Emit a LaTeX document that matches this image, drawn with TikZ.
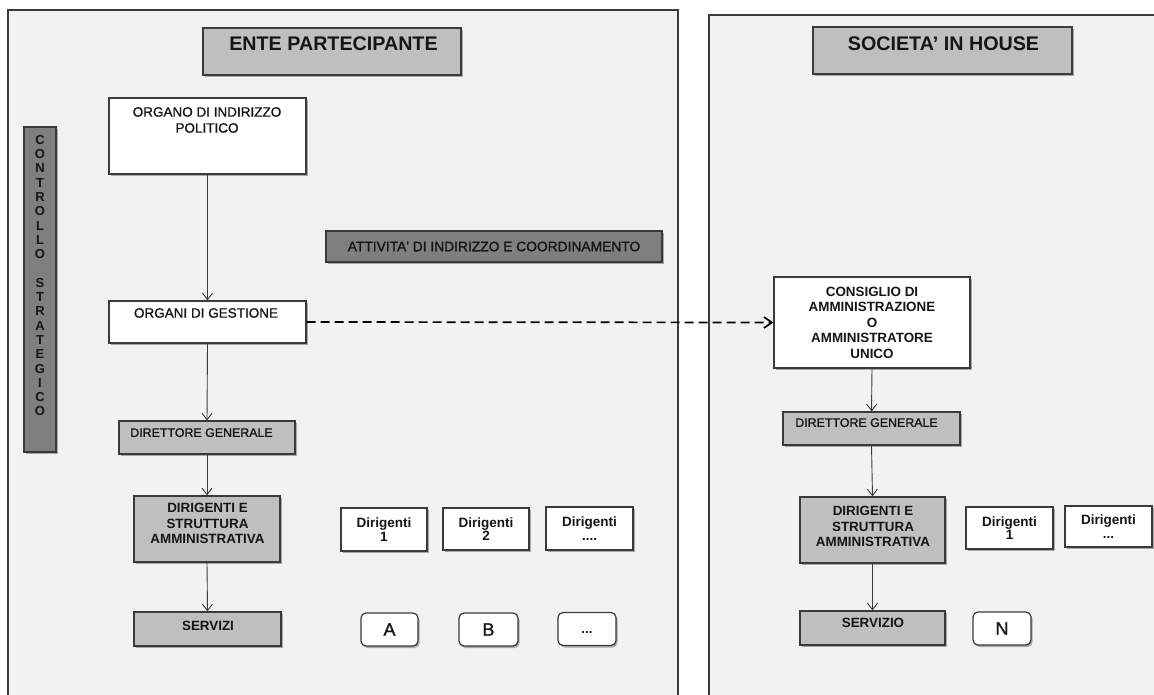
\documentclass[tikz,border=0pt]{standalone}
\usepackage{fontspec}
\setmainfont{Liberation Sans}
\newfontface\medfont{Liberation Sans}[FakeBold=1.2]
\usetikzlibrary{arrows.meta,shadows}
\definecolor{panelfill}{HTML}{F2F2F2}
\definecolor{boxgray}{HTML}{BFBFBF}
\definecolor{midgray}{HTML}{7F7F7F}
\definecolor{edgecol}{HTML}{3A3A3A}
\definecolor{ink}{HTML}{151515}
\begin{document}
\begin{tikzpicture}[x=1pt,y=-1pt,
  panel/.style={draw=edgecol, line width=1.1pt, fill=panelfill},
  box/.style={draw=edgecol, line width=1.2pt, inner sep=0pt, text=ink, align=center,
    drop shadow={shadow xshift=1.5pt, shadow yshift=-2pt, opacity=0.3, fill=black}},
  whitebox/.style={box, fill=white},
  graybox/.style={box, fill=boxgray},
  darkbox/.style={box, fill=midgray},
  roundbox/.style={whitebox, rounded corners=5pt},
  txt/.style={inner sep=0pt, text=ink, align=center, anchor=north},
  titlefont/.style={font=\fontsize{19.7}{22}\selectfont\bfseries},
  plainfont/.style={font=\fontsize{13.5}{16}\medfont},
  boldfont/.style={font=\fontsize{13.4}{15.5}\selectfont\bfseries},
  dirfont/.style={font=\fontsize{13.5}{13.5}\selectfont\bfseries},
  letterfont/.style={font=\fontsize{18}{20}\medfont},
  link/.style={draw=edgecol, line width=0.9pt,
    -{Straight Barb[length=6.5pt,width=10pt]}},
  dlink/.style={draw=black, line width=1.7pt, dash pattern=on 9pt off 5pt,
    -{Straight Barb[length=8pt,width=11pt]}}
]
\useasboundingbox (0,0) rectangle (1154,695);
\clip (0,0) rectangle (1154,695);
\fill[white] (0,0) rectangle (1154,695);

% the two frames
\path[panel] (8,10) rectangle (678,710);
\path[panel] (709,15) rectangle (1170,710);

% ---- left column ----
\node[graybox, minimum width=258pt, minimum height=47pt] (ente) at (332,51.5) {};
\node[txt, titlefont] (ente-t) at (333.5,37) {ENTE PARTECIPANTE};

\node[darkbox, minimum width=32pt, minimum height=325pt] (ctrl) at (40,289.5) {};
\node[txt, font=\fontsize{13}{14.3}\selectfont\bfseries] (ctrl-t) at (40,135)
  {C\\O\\N\\T\\R\\O\\L\\L\\O\\~\\S\\T\\R\\A\\T\\E\\G\\I\\C\\O};

\node[whitebox, minimum width=197pt, minimum height=76pt] (organo) at (207.5,136) {};
\node[txt, plainfont] (organo-t) at (207,107) {ORGANO DI INDIRIZZO\\POLITICO};

\node[darkbox, minimum width=336pt, minimum height=31pt, font=\fontsize{13.8}{16}\medfont]
  (attivita) at (494,246.5) {ATTIVITA' DI INDIRIZZO E COORDINAMENTO};

\node[whitebox, minimum width=197pt, minimum height=42pt] (organi) at (207.5,322) {};
\node[txt, plainfont] (organi-t) at (206,308) {ORGANI DI GESTIONE};

\node[graybox, minimum width=176pt, minimum height=33pt] (dg) at (207,437.5) {};
\node[txt, font=\fontsize{12.4}{14}\medfont] (dg-t) at (201.5,428) {DIRETTORE GENERALE};

\node[graybox, minimum width=146pt, minimum height=66pt] (dirig) at (207,529) {};
\node[txt, boldfont] (dirig-t) at (207.5,503) {DIRIGENTI E\\STRUTTURA\\AMMINISTRATIVA};

\node[graybox, minimum width=147pt, minimum height=34pt] (serv) at (207.5,629) {};
\node[txt, boldfont] (serv-t) at (208,621) {SERVIZI};

\node[whitebox, dirfont, minimum width=86pt, minimum height=43pt] (dir1) at (384,529.5) {Dirigenti\\1};
\node[whitebox, dirfont, minimum width=86pt, minimum height=42pt] (dir2) at (486,529) {Dirigenti\\2};
\node[whitebox, dirfont, minimum width=87pt, minimum height=43pt] (dir3) at (589.5,528.5) {Dirigenti\\....};

\node[roundbox, letterfont, minimum width=57pt, minimum height=33pt] (sa) at (389.5,629.5) {A};
\node[roundbox, letterfont, minimum width=59pt, minimum height=33pt] (sb) at (488.5,629.5) {B};
\node[roundbox, dirfont, text height=9pt, text depth=0pt, minimum width=58pt, minimum height=33pt]
  (sc) at (587,629) {...};

% ---- right column ----
\node[graybox, minimum width=259pt, minimum height=47pt] (soc) at (942.5,50.5) {};
\node[txt, titlefont] (soc-t) at (943.5,37) {SOCIETA' IN HOUSE};

\node[whitebox, boldfont, minimum width=196pt, minimum height=91pt] (cda) at (872,322.5)
  {CONSIGLIO DI\\AMMINISTRAZIONE\\O\\AMMINISTRATORE\\UNICO};

\node[graybox, minimum width=177pt, minimum height=33pt] (rdg) at (871.5,428.5) {};
\node[txt, font=\fontsize{12.4}{14}\medfont] (rdg-t) at (866.5,418) {DIRETTORE GENERALE};

\node[graybox, minimum width=145pt, minimum height=66pt] (rdirig) at (872.5,530) {};
\node[txt, boldfont] (rdirig-t) at (873,506) {DIRIGENTI E\\STRUTTURA\\AMMINISTRATIVA};

\node[graybox, minimum width=145pt, minimum height=34pt] (rserv) at (872.5,628) {};
\node[txt, boldfont] (rserv-t) at (873,618) {SERVIZIO};

\node[whitebox, dirfont, minimum width=87pt, minimum height=42pt] (rdir1) at (1009.5,528) {Dirigenti\\1};
\node[whitebox, dirfont, minimum width=87pt, minimum height=41pt] (rdir2) at (1108.5,526.5) {Dirigenti\\...};

\node[roundbox, letterfont, minimum width=58pt, minimum height=33pt] (sn) at (1002,628.5) {N};

% ---- connectors ----
\draw[link] (organo.south) -- (organi.north);
\draw[link] (organi.south) -- (dg.north);
\draw[link] (dg.south) -- (dirig.north);
\draw[link] (dirig.south) -- (serv.north);
\draw[dlink] (organi.east) -- (cda.west);
\draw[link] (cda.south) -- (rdg.north);
\draw[link] (rdg.south) -- (rdirig.north);
\draw[link] (rdirig.south) -- (rserv.north);
\end{tikzpicture}
\end{document}
